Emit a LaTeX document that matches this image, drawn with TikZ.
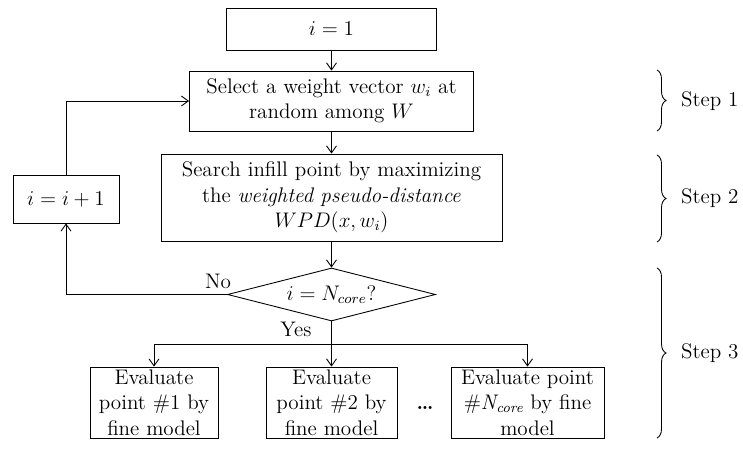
\documentclass[tikz,border=0pt]{standalone}
\usepackage{amsmath}
\usepackage{tikz}
\usetikzlibrary{shapes.geometric, arrows.meta, positioning, decorations.pathreplacing}

\begin{document}
\begin{tikzpicture}[
    x=0.02cm, y=-0.02cm,
    every node/.style={font=\fontsize{12}{14.5}\selectfont},
    block/.style={draw, line width=0.5pt, align=center, inner sep=0pt},
    flow/.style={-{Straight Barb[length=1.4mm,width=2mm]}, line width=0.5pt},
    stepbrace/.style={decorate, decoration={brace, amplitude=0.18cm}, line width=0.5pt}
]
\useasboundingbox (0,0) rectangle (743,452);

% Weight selection and infill search
\node[block, minimum width=4.2cm, minimum height=0.84cm] (init) at (331.5,29) {$i=1$};
\node[block, minimum width=5.68cm, minimum height=1.2cm] (select) at (331.5,101)
    {Select a weight vector $w_i$ at\\random among $W$};
\node[block, minimum width=6.82cm, minimum height=1.74cm] (search) at (331.5,197.5)
    {Search infill point by maximizing\\the \textit{weighted pseudo-distance}\\$WPD(x,w_i)$};
\node[block, shape=diamond, aspect=3.9, minimum width=4.16cm, minimum height=1.06cm] (check) at (331.5,294.5)
    {$i=N_{core}?$};
\node[block, minimum width=2.12cm, minimum height=0.96cm] (incr) at (66,199) {$i=i+1$};

% Parallel evaluations
\node[block, minimum width=2.56cm, minimum height=1.42cm] (eval1) at (154,402.5)
    {Evaluate\\point \#1 by\\fine model};
\node[block, minimum width=2.62cm, minimum height=1.42cm] (eval2) at (331.5,402.5)
    {Evaluate\\point \#2 by\\fine model};
\node[block, minimum width=3.06cm, minimum height=1.42cm] (evalN) at (527.5,402.5)
    {Evaluate point\\\#\textit{N\textsubscript{core}} by fine\\model};
\node (dots) at (425,408) {\textbf{\dots}};

% Connectors
\draw[flow] (init) -- (select);
\draw[flow] (select) -- (search);
\draw[flow] (search) -- (check);
\draw[flow] (check.west) -| (incr.south);
\draw[flow] (incr.north) |- (select.west);
\node (nolbl) at (218,281) {No};
\node (yeslbl) at (296,329) {Yes};

\coordinate (split) at (331.5,344);
\draw[flow] (check.south) -- (eval2.north);
\draw[flow] (split) -| (eval1.north);
\draw[flow] (split) -| (evalN.north);

% Step braces
\draw[stepbrace] (657,70) -- (657,131);
\node[anchor=west] (step1) at (675,101) {Step 1};
\draw[stepbrace] (657,155) -- (657,242);
\node[anchor=west] (step2) at (675,198) {Step 2};
\draw[stepbrace] (657,268) -- (657,438);
\node[anchor=west] (step3) at (675,353) {Step 3};
\end{tikzpicture}
\end{document}
